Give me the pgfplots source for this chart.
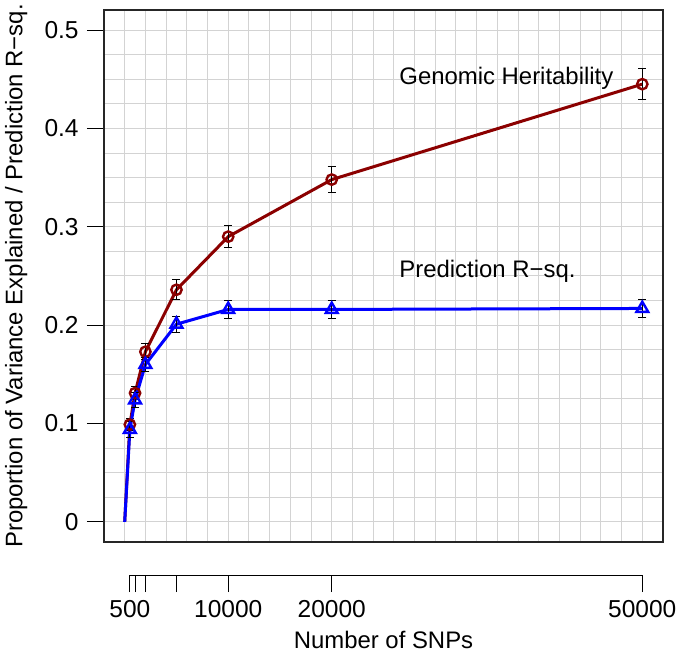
\documentclass[border=0pt]{standalone}
\usepackage{fontspec}
\setmainfont{Liberation Sans}
\usepackage{pgfplots}
\pgfplotsset{compat=1.18}
\definecolor{hcol}{RGB}{139,0,0}
\definecolor{gridc}{RGB}{211,211,211}

% heritability and prediction R-sq. with standard errors
\pgfplotstableread{
n     h      he     p      pe
500   0.099  0.006  0.094  0.008
1000  0.131  0.007  0.124  0.008
2000  0.173  0.008  0.160  0.007
5000  0.236  0.010  0.201  0.008
10000 0.290  0.011  0.216  0.009
20000 0.348  0.013  0.216  0.009
50000 0.445  0.016  0.217  0.009
}\snps

\begin{document}
\fontsize{12}{14}\selectfont
\begin{tikzpicture}
\useasboundingbox (-52bp,-57bp) rectangle (286.5bp,271bp);
\begin{axis}[
  at={(0,0)}, anchor=south west,
  width=279.5bp, height=266bp, scale only axis,
  xmin=-2000, xmax=52000, ymin=-0.0204, ymax=0.5204,
  xtick={0,2000,...,52000}, xticklabel=\empty, x tick style={draw=none},
  scaled x ticks=false,
  ytick={0,0.1,0.2,0.3,0.4,0.5}, minor y tick num=3, ytick pos=left,
  tick align=outside, major tick length=8.5bp, minor tick length=0pt,
  y tick style={black, line width=0.5bp},
  grid=both, major grid style={gridc, line width=0.5bp},
  minor grid style={gridc, line width=0.5bp},
  axis line style={black!85, line width=0.75bp},
  /pgf/number format/assume math mode=true,
  ticklabel style={font=\fontsize{12.3}{14}\selectfont},
  ylabel={Proportion of Variance Explained / Prediction R−sq.},
  every axis y label/.style={at={(axis description cs:-0.157,0.5)}, rotate=90, anchor=center},
  clip=false,
]
\addplot[hcol, line width=1.5bp] coordinates {(0,0) (500,0.099)};
\addplot[hcol, line width=1.5bp, mark=o, mark size=2.6bp,
  mark options={line width=1.2bp},
  error bars/.cd, y dir=both, y explicit,
  error bar style={black, line width=0.5bp},
  error mark options={rotate=90, black, mark size=2bp, line width=0.5bp}]
  table[x=n, y=h, y error=he]{\snps};
\addplot[blue, line width=1.5bp] coordinates {(0,0) (500,0.094)};
\addplot[blue, line width=1.5bp, mark=triangle, mark size=3.4bp,
  mark options={line width=1.2bp},
  error bars/.cd, y dir=both, y explicit,
  error bar style={black, line width=0.5bp},
  error mark options={rotate=90, black, mark size=2bp, line width=0.5bp}]
  table[x=n, y=p, y error=pe]{\snps};
\node[anchor=west, inner sep=0pt] at (axis cs:26500,0.451) {Genomic Heritability};
\node[anchor=west, inner sep=0pt] at (axis cs:26500,0.255) {Prediction R−sq.};
\end{axis}

\begin{axis}[
  at={(0,-16.5bp)}, anchor=south west,
  width=279.5bp, height=10bp, scale only axis,
  xmin=-2000, xmax=52000, ymin=0, ymax=1,
  hide y axis, axis x line*=bottom, axis line style={draw=none},
  xtick={500,1000,2000,5000,10000,20000,50000},
  xticklabels={500,,,,10000,20000,50000},
  scaled x ticks=false,
  tick align=outside, major tick length=8.5bp,
  x tick style={black, line width=0.5bp},
  ticklabel style={font=\fontsize{12.3}{14}\selectfont},
  xlabel={Number of SNPs},
  every axis x label/.style={at={(axis description cs:0.5,0)}, anchor=center, yshift=-32.5bp},
  clip=false,
]
\draw[black, line width=0.5bp] (axis cs:500,0) -- (axis cs:50000,0);
\end{axis}
\end{tikzpicture}
\end{document}
